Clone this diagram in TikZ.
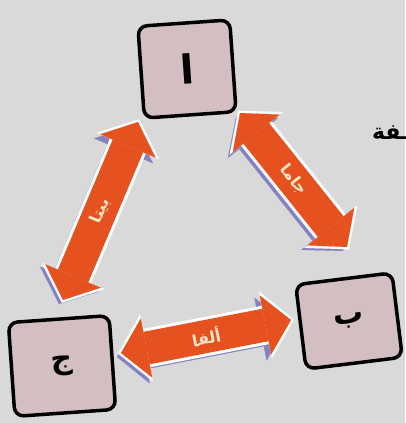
\documentclass[tikz,border=0pt]{standalone}
\usepackage{fontspec}
\newfontfamily\arabicfont[Script=Arabic]{DejaVu Sans}
\TeXXeTstate=1
\usetikzlibrary{arrows.meta}
\definecolor{bg}{HTML}{D9D9D9}
\definecolor{boxfill}{HTML}{D3BEC2}
\definecolor{arr}{HTML}{E6521F}
\definecolor{shad}{HTML}{8682C0}
\definecolor{lbl}{HTML}{F7E6C4}
\tikzset{
  letterbox/.style={draw=black, line width=3.5pt, rounded corners=9pt, fill=boxfill, inner sep=0pt},
  arrtips/.style 2 args={{Triangle[width=#1,length=#2,line width=0.1pt]}-{Triangle[width=#1,length=#2,line width=0.1pt]}},
  fatshadow/.style={shad, line width=35pt, arrtips={64pt}{27pt}},
  fatwhite/.style={white, line width=39pt, arrtips={68pt}{29pt}, shorten <=-3pt, shorten >=-3pt},
  fatbody/.style={arr, line width=33pt, arrtips={60pt}{26pt}},
  arrlabel/.style={font=\arabicfont\bfseries\fontsize{16}{18}\selectfont, text=lbl},
}
\newcommand\fatarr[3]{%
  \draw[fatshadow, transform canvas={shift={(-4pt,-4pt)}}] (#1) -- (#2);
  \draw[fatwhite] (#1) -- (#2);
  \draw[fatbody] (#1) -- (#2) node[midway, sloped, arrlabel] {\beginR #3\endR};
}
\begin{document}
\begin{tikzpicture}[x=1pt, y=-1pt]
  \fill[bg] (0,0) rectangle (405,423);
  \useasboundingbox (0,0) rectangle (405,423);

  % arrow end points
  \coordinate (r1) at (240,113);
  \coordinate (r2) at (347,247);
  \coordinate (l1) at (138,122);
  \coordinate (l2) at (63,300);
  \coordinate (b1) at (121,353);
  \coordinate (b2) at (291,320);

  \fatarr{r1}{r2}{جاما}
  \fatarr{l2}{l1}{بيتا}
  \fatarr{b1}{b2}{ألفا}

  % boxes
  \node[letterbox, minimum width=92pt, minimum height=92pt, rotate=4,
        font=\arabicfont\bfseries\fontsize{40}{42}\selectfont] (alef) at (187,69) {\beginR ا\endR};
  \node[letterbox, minimum width=97pt, minimum height=85pt, rotate=7,
        font=\arabicfont\bfseries\fontsize{30}{32}\selectfont] (beh) at (349,321) {\beginR ب\endR};
  \node[letterbox, minimum width=101pt, minimum height=94pt, rotate=4,
        font=\arabicfont\bfseries\fontsize{30}{32}\selectfont] (jeem) at (62,366) {\beginR ج\endR};

  % partial word at right edge
  \node[anchor=east, inner sep=0pt, font=\arabicfont\bfseries\fontsize{22}{24}\selectfont] (part) at (409,133) {\beginR ـفة\endR};
\end{tikzpicture}
\end{document}
